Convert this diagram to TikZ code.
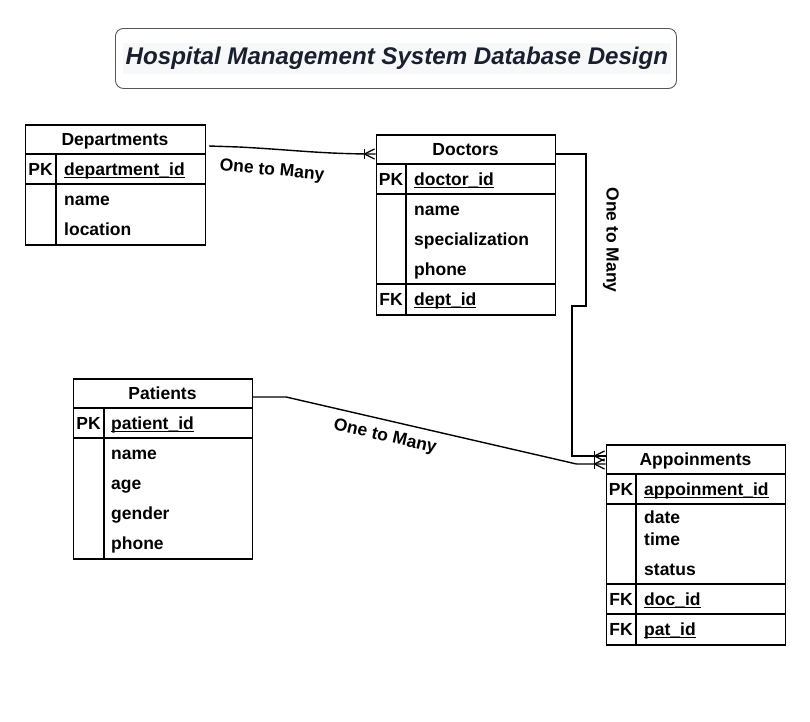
\documentclass[tikz,border=0pt]{standalone}
\usepackage{fontspec}
\setmainfont{Liberation Sans}
\usetikzlibrary{calc}
\newcommand\tblfont{\fontsize{17.5}{21}\selectfont\bfseries}
\newcommand\ulfield[1]{\setbox0\hbox{#1}\rlap{\vrule height -1.6pt depth 2.8pt width \wd0}\box0}
\definecolor{titlecol}{HTML}{1A1F2E}
\definecolor{titlebg}{HTML}{F7F8FA}
\definecolor{titlebox}{HTML}{555555}
\tikzset{
  tbl/.style={draw, line width=1.6pt, inner sep=0pt, anchor=north west},
  sepline/.style={line width=1.2pt},
  txt/.style={inner sep=0pt, text height=12.5pt, text depth=0pt, font=\tblfont},
  fld/.style={txt, anchor=west},
  key/.style={txt, anchor=center},
  conn/.style={line width=1.4pt},
  rel/.style={inner sep=0pt, font=\tblfont},
  crowfoot/.pic={
    \draw[line width=1.2pt] (-11,-5) -- (-11,5);
    \draw[line width=1.2pt] (-11,0) -- (-1,-5) (-11,0) -- (-1,5);
  }
}
\begin{document}
\begin{tikzpicture}[x=1pt,y=-1pt]
\useasboundingbox (0,0) rectangle (810,721);

% Title
\node[draw=titlebox, line width=0.9pt, rounded corners=8pt, minimum width=561pt, minimum height=60pt, anchor=north west] (titlebox) at (115,28) {};
\node[fill=titlebg, inner xsep=3pt, inner ysep=4pt, text=titlecol, font=\fontsize{24.1}{28}\selectfont\bfseries\itshape] (title) at ($(titlebox.center)+(1,0)$) {Hospital Management System Database Design};

% Departments
\node[tbl, minimum width=180pt, minimum height=120pt] (dep) at (24.5,124) {};
\draw[sepline] (25,154) -- (205,154);
\draw[sepline] (25,184) -- (205,184);
\draw[sepline] (56,154) -- (56,244);
\node[txt] (depH) at (115,139) {Departments};
\node[key] (depPK) at (40.5,169) {PK};
\node[fld] (depF1) at (64,169) {\ulfield{department\_id}};
\node[fld] (depF2) at (64,199) {name};
\node[fld] (depF3) at (64,229) {location};

% Doctors
\node[tbl, minimum width=179pt, minimum height=180pt] (doc) at (375.5,134) {};
\draw[sepline] (376,164) -- (555,164);
\draw[sepline] (376,194) -- (555,194);
\draw[sepline] (376,284) -- (555,284);
\draw[sepline] (406,164) -- (406,314);
\node[txt] (docH) at (465.5,149) {Doctors};
\node[key] (docPK) at (391,179) {PK};
\node[fld] (docF1) at (414,179) {\ulfield{doctor\_id}};
\node[fld] (docF2) at (414,209) {name};
\node[fld] (docF3) at (414,239) {specialization};
\node[fld] (docF4) at (414,269) {phone};
\node[key] (docFK) at (391,299) {FK};
\node[fld] (docF5) at (414,299) {\ulfield{dept\_id}};

% Patients
\node[tbl, minimum width=179pt, minimum height=180pt] (pat) at (72.5,378) {};
\draw[sepline] (73,408) -- (252,408);
\draw[sepline] (73,438) -- (252,438);
\draw[sepline] (104,408) -- (104,558);
\node[txt] (patH) at (162.5,393) {Patients};
\node[key] (patPK) at (88.5,423) {PK};
\node[fld] (patF1) at (111,423) {\ulfield{patient\_id}};
\node[fld] (patF2) at (111,453) {name};
\node[fld] (patF3) at (111,483) {age};
\node[fld] (patF4) at (111,513) {gender};
\node[fld] (patF5) at (111,543) {phone};

% Appoinments
\node[tbl, minimum width=179pt, minimum height=200pt] (app) at (605.5,444) {};
\draw[sepline] (606,474) -- (785,474);
\draw[sepline] (606,504) -- (785,504);
\draw[sepline] (606,584) -- (785,584);
\draw[sepline] (606,614) -- (785,614);
\draw[sepline] (636,474) -- (636,644);
\node[txt] (appH) at (695.5,459) {Appoinments};
\node[key] (appPK) at (621,489) {PK};
\node[fld] (appF1) at (644,489) {\ulfield{appoinment\_id}};
\node[fld] (appF2) at (644,517) {date};
\node[fld] (appF3) at (644,539) {time};
\node[fld] (appF4) at (644,569) {status};
\node[key] (appFK1) at (621,599) {FK};
\node[fld] (appF5) at (644,599) {\ulfield{doc\_id}};
\node[key] (appFK2) at (621,629) {FK};
\node[fld] (appF6) at (644,629) {\ulfield{pat\_id}};

% Connectors
\coordinate (c1s) at ($(dep.north east)+(3,22)$);
\coordinate (c1e) at ($(doc.north west)+(0,20)$);
\draw[conn] (c1s) -- ++(30,1) to[out=-3,in=180] (c1e);
\pic at (c1e) {crowfoot};
\node[rel, rotate=-5] (lab1) at (272,171) {One to Many};

\coordinate (c2s) at ($(doc.north east)+(0,20)$);
\coordinate (c2e) at ($(app.north west)+(0,12)$);
\draw[conn] (c2s) -- ++(30,0) -- ++(0,152) -- ++(-14,0) |- (c2e);
\pic at (c2e) {crowfoot};
\node[rel, rotate=-90] (lab2) at (611,240) {One to Many};

\coordinate (c3s) at ($(pat.north east)+(0,19)$);
\coordinate (c3e) at ($(app.north west)+(0,20)$);
\draw[conn] (c3s) -- ++(33,0) -- ($(c3e)+(-29,0)$) -- (c3e);
\pic at (c3e) {crowfoot};
\node[rel, rotate=-13] (lab3) at (385,437) {One to Many};
\end{tikzpicture}
\end{document}
